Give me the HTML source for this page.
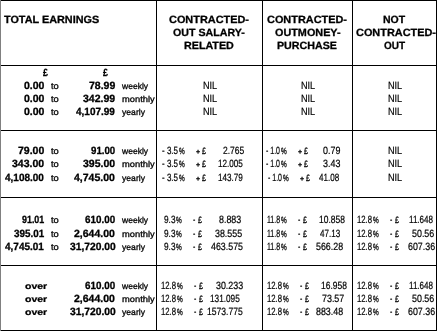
<!DOCTYPE html>
<html><head><meta charset="utf-8"><style>
html,body{margin:0;padding:0;background:#fff;width:437px;height:331px;overflow:hidden}
#t{position:relative;will-change:transform;width:437px;height:331px;background:#fff}
#t div{position:absolute;white-space:pre;line-height:20px;text-rendering:geometricPrecision;font-family:"Liberation Sans",sans-serif;color:#000;transform-origin:0 0}
#t .b{font-weight:bold;font-size:10.5px;-webkit-text-stroke:0.3px #000}
#t .n{font-weight:normal;font-size:10.5px;-webkit-text-stroke:0.2px #000}
#t i{position:absolute;background:#000;display:block}
</style></head>
<body><div id="t">
<i style="left:1px;top:0px;width:436px;height:1px"></i>
<i style="left:1px;top:65px;width:436px;height:1px"></i>
<i style="left:1px;top:130px;width:436px;height:1px"></i>
<i style="left:1px;top:197px;width:436px;height:1px"></i>
<i style="left:1px;top:265px;width:436px;height:1px"></i>
<i style="left:1px;top:330px;width:436px;height:1px"></i>
<i style="left:156px;top:0;width:1px;height:331px"></i>
<i style="left:262px;top:0;width:1px;height:331px"></i>
<i style="left:352px;top:0;width:1px;height:331px"></i>
<i style="left:436px;top:0;width:1px;height:331px"></i>
<i style="left:0;top:0;width:1px;height:331px;background:#808080"></i>
<div class="b" style="left:4.00px;top:10.00px;transform:scaleX(1.0326)">TOTAL EARNINGS</div>
<div class="b" style="left:169.00px;top:10.00px;transform:scaleX(1.0390)">CONTRACTED-</div>
<div class="b" style="left:173.00px;top:23.00px;transform:scaleX(1.0141)">OUT SALARY-</div>
<div class="b" style="left:184.00px;top:36.00px;transform:scaleX(1.0204)">RELATED</div>
<div class="b" style="left:267.00px;top:10.00px;transform:scaleX(1.0390)">CONTRACTED-</div>
<div class="b" style="left:275.00px;top:23.00px;transform:scaleX(1.0317)">OUTMONEY-</div>
<div class="b" style="left:277.00px;top:36.00px;transform:scaleX(1.0169)">PURCHASE</div>
<div class="b" style="left:383.00px;top:10.00px;transform:scaleX(1.0000)">NOT</div>
<div class="b" style="left:356.00px;top:23.00px;transform:scaleX(1.0390)">CONTRACTED-</div>
<div class="b" style="left:384.00px;top:36.00px;transform:scaleX(0.9545)">OUT</div>
<div class="b" style="left:43.00px;top:63.00px;transform:scale(0.8333,1.0000)">£</div>
<div class="b" style="left:103.00px;top:63.00px;transform:scale(0.8333,1.0000)">£</div>
<div class="b" style="left:24.00px;top:76.00px;transform:scaleX(1.0000)">0.00</div>
<div class="b" style="left:24.00px;top:89.00px;transform:scaleX(1.0000)">0.00</div>
<div class="b" style="left:24.00px;top:102.00px;transform:scaleX(1.0000)">0.00</div>
<div class="b" style="left:89.00px;top:76.00px;transform:scaleX(1.0000)">78.99</div>
<div class="b" style="left:83.00px;top:89.00px;transform:scaleX(1.0000)">342.99</div>
<div class="b" style="left:76.00px;top:102.00px;transform:scaleX(0.9512)">4,107.99</div>
<div class="n" style="-webkit-text-stroke:0.35px #000;left:51.00px;top:77.86px;transform:scale(0.8889,0.8571)">to</div>
<div class="n" style="-webkit-text-stroke:0.35px #000;left:51.00px;top:90.86px;transform:scale(0.8889,0.8571)">to</div>
<div class="n" style="-webkit-text-stroke:0.35px #000;left:51.00px;top:103.86px;transform:scale(0.8889,0.8571)">to</div>
<div class="n" style="-webkit-text-stroke:0.35px #000;left:51.00px;top:142.86px;transform:scale(0.8889,0.8571)">to</div>
<div class="n" style="-webkit-text-stroke:0.35px #000;left:51.00px;top:155.86px;transform:scale(0.8889,0.8571)">to</div>
<div class="n" style="-webkit-text-stroke:0.35px #000;left:51.00px;top:169.86px;transform:scale(0.8889,0.8571)">to</div>
<div class="n" style="-webkit-text-stroke:0.35px #000;left:51.00px;top:211.86px;transform:scale(0.8889,0.8571)">to</div>
<div class="n" style="-webkit-text-stroke:0.35px #000;left:51.00px;top:225.86px;transform:scale(0.8889,0.8571)">to</div>
<div class="n" style="-webkit-text-stroke:0.35px #000;left:51.00px;top:238.86px;transform:scale(0.8889,0.8571)">to</div>
<div class="n" style="-webkit-text-stroke:0.35px #000;left:122.00px;top:77.91px;transform:scale(0.8125,0.8182)">weekly</div>
<div class="n" style="-webkit-text-stroke:0.35px #000;left:122.00px;top:90.91px;transform:scale(0.8919,0.8182)">monthly</div>
<div class="n" style="-webkit-text-stroke:0.35px #000;left:122.00px;top:103.91px;transform:scale(0.8214,0.8182)">yearly</div>
<div class="n" style="-webkit-text-stroke:0.35px #000;left:122.00px;top:142.91px;transform:scale(0.8125,0.8182)">weekly</div>
<div class="n" style="-webkit-text-stroke:0.35px #000;left:122.00px;top:155.91px;transform:scale(0.8919,0.8182)">monthly</div>
<div class="n" style="-webkit-text-stroke:0.35px #000;left:122.00px;top:169.91px;transform:scale(0.8214,0.8182)">yearly</div>
<div class="n" style="-webkit-text-stroke:0.35px #000;left:122.00px;top:211.91px;transform:scale(0.8125,0.8182)">weekly</div>
<div class="n" style="-webkit-text-stroke:0.35px #000;left:122.00px;top:225.91px;transform:scale(0.8919,0.8182)">monthly</div>
<div class="n" style="-webkit-text-stroke:0.35px #000;left:122.00px;top:238.91px;transform:scale(0.8214,0.8182)">yearly</div>
<div class="n" style="-webkit-text-stroke:0.35px #000;left:122.00px;top:277.91px;transform:scale(0.8125,0.8182)">weekly</div>
<div class="n" style="-webkit-text-stroke:0.35px #000;left:122.00px;top:290.91px;transform:scale(0.8919,0.8182)">monthly</div>
<div class="n" style="-webkit-text-stroke:0.35px #000;left:122.00px;top:303.91px;transform:scale(0.8214,0.8182)">yearly</div>
<div class="n" style="left:203.13px;top:76.00px;transform:scaleX(0.8667)">NIL</div>
<div class="n" style="left:301.13px;top:76.00px;transform:scaleX(0.8667)">NIL</div>
<div class="n" style="left:388.13px;top:76.00px;transform:scaleX(0.8667)">NIL</div>
<div class="n" style="left:203.13px;top:89.00px;transform:scaleX(0.8667)">NIL</div>
<div class="n" style="left:301.13px;top:89.00px;transform:scaleX(0.8667)">NIL</div>
<div class="n" style="left:388.13px;top:89.00px;transform:scaleX(0.8667)">NIL</div>
<div class="n" style="left:203.13px;top:102.00px;transform:scaleX(0.8667)">NIL</div>
<div class="n" style="left:301.13px;top:102.00px;transform:scaleX(0.8667)">NIL</div>
<div class="n" style="left:388.13px;top:102.00px;transform:scaleX(0.8667)">NIL</div>
<div class="b" style="left:18.00px;top:141.00px;transform:scaleX(1.0000)">79.00</div>
<div class="b" style="left:12.00px;top:154.00px;transform:scaleX(1.0000)">343.00</div>
<div class="b" style="left:5.00px;top:168.00px;transform:scaleX(0.9512)">4,108.00</div>
<div class="b" style="left:91.00px;top:141.00px;transform:scaleX(0.9231)">91.00</div>
<div class="b" style="left:83.00px;top:154.00px;transform:scaleX(1.0000)">395.00</div>
<div class="b" style="left:74.00px;top:168.00px;transform:scaleX(1.0000)">4,745.00</div>
<div class="n" style="left:162.00px;top:141.00px;transform:scaleX(0.7619)">- 3.5</div>
<div class="n" style="font-size:7.5px;-webkit-text-stroke:0.25px #000;left:179.00px;top:139.60px;transform:scale(0.8571,1.2000)">%</div>
<div class="b" style="font-size:7px;left:196.00px;top:143.00px;transform:none">+</div>
<div class="n" style="-webkit-text-stroke:0.35px #000;left:202.00px;top:142.62px;transform:scale(0.6667,0.8750)">£</div>
<div class="n" style="left:162.00px;top:154.00px;transform:scaleX(0.7619)">- 3.5</div>
<div class="n" style="font-size:7.5px;-webkit-text-stroke:0.25px #000;left:179.00px;top:152.60px;transform:scale(0.8571,1.2000)">%</div>
<div class="b" style="font-size:7px;left:196.00px;top:156.00px;transform:none">+</div>
<div class="n" style="-webkit-text-stroke:0.35px #000;left:202.00px;top:155.62px;transform:scale(0.6667,0.8750)">£</div>
<div class="n" style="left:162.00px;top:168.00px;transform:scaleX(0.7619)">- 3.5</div>
<div class="n" style="font-size:7.5px;-webkit-text-stroke:0.25px #000;left:179.00px;top:166.60px;transform:scale(0.8571,1.2000)">%</div>
<div class="b" style="font-size:7px;left:196.00px;top:170.00px;transform:none">+</div>
<div class="n" style="-webkit-text-stroke:0.35px #000;left:202.00px;top:169.62px;transform:scale(0.6667,0.8750)">£</div>
<div class="n" style="left:223.00px;top:141.00px;transform:scaleX(0.8077)">2.765</div>
<div class="n" style="left:218.23px;top:154.00px;transform:scaleX(0.7742)">12.005</div>
<div class="n" style="left:218.23px;top:168.00px;transform:scaleX(0.7742)">143.79</div>
<div class="n" style="left:266.00px;top:141.00px;transform:scaleX(0.6667)">- 1.0</div>
<div class="n" style="font-size:7.5px;-webkit-text-stroke:0.25px #000;left:281.00px;top:139.60px;transform:scale(0.8571,1.2000)">%</div>
<div class="b" style="font-size:7px;left:298.00px;top:143.00px;transform:none">+</div>
<div class="n" style="-webkit-text-stroke:0.35px #000;left:304.00px;top:142.62px;transform:scale(0.6667,0.8750)">£</div>
<div class="n" style="left:266.00px;top:154.00px;transform:scaleX(0.6667)">- 1.0</div>
<div class="n" style="font-size:7.5px;-webkit-text-stroke:0.25px #000;left:281.00px;top:152.60px;transform:scale(0.8571,1.2000)">%</div>
<div class="b" style="font-size:7px;left:298.00px;top:156.00px;transform:none">+</div>
<div class="n" style="-webkit-text-stroke:0.35px #000;left:304.00px;top:155.62px;transform:scale(0.6667,0.8750)">£</div>
<div class="n" style="left:268.00px;top:168.00px;transform:scaleX(0.6667)">- 1.0</div>
<div class="n" style="font-size:7.5px;-webkit-text-stroke:0.25px #000;left:283.00px;top:166.60px;transform:scale(0.8571,1.2000)">%</div>
<div class="b" style="font-size:7px;left:300.00px;top:170.00px;transform:none">+</div>
<div class="n" style="-webkit-text-stroke:0.35px #000;left:306.00px;top:169.62px;transform:scale(0.6667,0.8750)">£</div>
<div class="n" style="left:323.00px;top:141.00px;transform:scaleX(0.8500)">0.79</div>
<div class="n" style="left:323.00px;top:154.00px;transform:scaleX(0.8500)">3.43</div>
<div class="n" style="left:319.00px;top:168.00px;transform:scaleX(0.7692)">41.08</div>
<div class="n" style="left:388.13px;top:141.00px;transform:scaleX(0.8667)">NIL</div>
<div class="n" style="left:388.13px;top:154.00px;transform:scaleX(0.8667)">NIL</div>
<div class="n" style="left:388.13px;top:168.00px;transform:scaleX(0.8667)">NIL</div>
<div class="b" style="left:22.00px;top:210.00px;transform:scaleX(0.8462)">91.01</div>
<div class="b" style="left:14.00px;top:224.00px;transform:scaleX(0.9375)">395.01</div>
<div class="b" style="left:5.00px;top:237.00px;transform:scaleX(0.9512)">4,745.01</div>
<div class="b" style="left:85.00px;top:210.00px;transform:scaleX(0.9375)">610.00</div>
<div class="b" style="left:74.00px;top:224.00px;transform:scaleX(1.0000)">2,644.00</div>
<div class="b" style="left:70.00px;top:237.00px;transform:scaleX(0.9783)">31,720.00</div>
<div class="n" style="left:164.00px;top:210.00px;transform:scaleX(0.7857)">9.3</div>
<div class="n" style="font-size:7.5px;-webkit-text-stroke:0.25px #000;left:176.00px;top:208.60px;transform:scale(0.8571,1.2000)">%</div>
<div class="n" style="left:193.00px;top:210.00px;transform:scale(0.6667,1.0000)">-</div>
<div class="n" style="-webkit-text-stroke:0.35px #000;left:198.00px;top:211.62px;transform:scale(0.6667,0.8750)">£</div>
<div class="n" style="left:267.33px;top:210.00px;transform:scaleX(0.6667)">11.8</div>
<div class="n" style="font-size:7.5px;-webkit-text-stroke:0.25px #000;left:281.00px;top:208.60px;transform:scale(0.8571,1.2000)">%</div>
<div class="n" style="left:298.00px;top:210.00px;transform:scale(0.6667,1.0000)">-</div>
<div class="n" style="-webkit-text-stroke:0.35px #000;left:303.00px;top:211.62px;transform:scale(0.6667,0.8750)">£</div>
<div class="n" style="left:164.00px;top:224.00px;transform:scaleX(0.7857)">9.3</div>
<div class="n" style="font-size:7.5px;-webkit-text-stroke:0.25px #000;left:176.00px;top:222.60px;transform:scale(0.8571,1.2000)">%</div>
<div class="n" style="left:193.00px;top:224.00px;transform:scale(0.6667,1.0000)">-</div>
<div class="n" style="-webkit-text-stroke:0.35px #000;left:198.00px;top:225.62px;transform:scale(0.6667,0.8750)">£</div>
<div class="n" style="left:267.33px;top:224.00px;transform:scaleX(0.6667)">11.8</div>
<div class="n" style="font-size:7.5px;-webkit-text-stroke:0.25px #000;left:281.00px;top:222.60px;transform:scale(0.8571,1.2000)">%</div>
<div class="n" style="left:298.00px;top:224.00px;transform:scale(0.6667,1.0000)">-</div>
<div class="n" style="-webkit-text-stroke:0.35px #000;left:303.00px;top:225.62px;transform:scale(0.6667,0.8750)">£</div>
<div class="n" style="left:164.00px;top:237.00px;transform:scaleX(0.7857)">9.3</div>
<div class="n" style="font-size:7.5px;-webkit-text-stroke:0.25px #000;left:176.00px;top:235.60px;transform:scale(0.8571,1.2000)">%</div>
<div class="n" style="left:193.00px;top:237.00px;transform:scale(0.6667,1.0000)">-</div>
<div class="n" style="-webkit-text-stroke:0.35px #000;left:198.00px;top:238.62px;transform:scale(0.6667,0.8750)">£</div>
<div class="n" style="left:267.33px;top:237.00px;transform:scaleX(0.6667)">11.8</div>
<div class="n" style="font-size:7.5px;-webkit-text-stroke:0.25px #000;left:281.00px;top:235.60px;transform:scale(0.8571,1.2000)">%</div>
<div class="n" style="left:298.00px;top:237.00px;transform:scale(0.6667,1.0000)">-</div>
<div class="n" style="-webkit-text-stroke:0.35px #000;left:303.00px;top:238.62px;transform:scale(0.6667,0.8750)">£</div>
<div class="n" style="left:219.00px;top:210.00px;transform:scaleX(0.8462)">8.883</div>
<div class="n" style="left:215.00px;top:224.00px;transform:scaleX(0.8438)">38.555</div>
<div class="n" style="left:211.00px;top:237.00px;transform:scaleX(0.8421)">463.575</div>
<div class="n" style="left:319.19px;top:210.00px;transform:scaleX(0.8065)">10.858</div>
<div class="n" style="left:320.00px;top:224.00px;transform:scaleX(0.7692)">47.13</div>
<div class="n" style="left:316.00px;top:237.00px;transform:scaleX(0.8438)">566.28</div>
<div class="n" style="left:357.26px;top:210.00px;transform:scaleX(0.7368)">12.8</div>
<div class="n" style="font-size:7.5px;-webkit-text-stroke:0.25px #000;left:373.00px;top:208.60px;transform:scale(0.8571,1.2000)">%</div>
<div class="n" style="left:390.00px;top:210.00px;transform:scale(0.6667,1.0000)">-</div>
<div class="n" style="-webkit-text-stroke:0.35px #000;left:395.00px;top:211.62px;transform:scale(0.6667,0.8750)">£</div>
<div class="n" style="left:357.26px;top:224.00px;transform:scaleX(0.7368)">12.8</div>
<div class="n" style="font-size:7.5px;-webkit-text-stroke:0.25px #000;left:373.00px;top:222.60px;transform:scale(0.8571,1.2000)">%</div>
<div class="n" style="left:390.00px;top:224.00px;transform:scale(0.6667,1.0000)">-</div>
<div class="n" style="-webkit-text-stroke:0.35px #000;left:395.00px;top:225.62px;transform:scale(0.6667,0.8750)">£</div>
<div class="n" style="left:357.26px;top:237.00px;transform:scaleX(0.7368)">12.8</div>
<div class="n" style="font-size:7.5px;-webkit-text-stroke:0.25px #000;left:373.00px;top:235.60px;transform:scale(0.8571,1.2000)">%</div>
<div class="n" style="left:390.00px;top:237.00px;transform:scale(0.6667,1.0000)">-</div>
<div class="n" style="-webkit-text-stroke:0.35px #000;left:395.00px;top:238.62px;transform:scale(0.6667,0.8750)">£</div>
<div class="n" style="left:409.23px;top:210.00px;transform:scaleX(0.7667)">11.648</div>
<div class="n" style="left:412.00px;top:224.00px;transform:scaleX(0.8462)">50.56</div>
<div class="n" style="left:408.00px;top:237.00px;transform:scaleX(0.8438)">607.36</div>
<div class="n" style="left:357.26px;top:276.00px;transform:scaleX(0.7368)">12.8</div>
<div class="n" style="font-size:7.5px;-webkit-text-stroke:0.25px #000;left:373.00px;top:274.60px;transform:scale(0.8571,1.2000)">%</div>
<div class="n" style="left:390.00px;top:276.00px;transform:scale(0.6667,1.0000)">-</div>
<div class="n" style="-webkit-text-stroke:0.35px #000;left:395.00px;top:277.62px;transform:scale(0.6667,0.8750)">£</div>
<div class="n" style="left:357.26px;top:289.00px;transform:scaleX(0.7368)">12.8</div>
<div class="n" style="font-size:7.5px;-webkit-text-stroke:0.25px #000;left:373.00px;top:287.60px;transform:scale(0.8571,1.2000)">%</div>
<div class="n" style="left:390.00px;top:289.00px;transform:scale(0.6667,1.0000)">-</div>
<div class="n" style="-webkit-text-stroke:0.35px #000;left:395.00px;top:290.62px;transform:scale(0.6667,0.8750)">£</div>
<div class="n" style="left:357.26px;top:302.00px;transform:scaleX(0.7368)">12.8</div>
<div class="n" style="font-size:7.5px;-webkit-text-stroke:0.25px #000;left:373.00px;top:300.60px;transform:scale(0.8571,1.2000)">%</div>
<div class="n" style="left:390.00px;top:302.00px;transform:scale(0.6667,1.0000)">-</div>
<div class="n" style="-webkit-text-stroke:0.35px #000;left:395.00px;top:303.62px;transform:scale(0.6667,0.8750)">£</div>
<div class="n" style="left:409.23px;top:276.00px;transform:scaleX(0.7667)">11.648</div>
<div class="n" style="left:412.00px;top:289.00px;transform:scaleX(0.8462)">50.56</div>
<div class="n" style="left:408.00px;top:302.00px;transform:scaleX(0.8438)">607.36</div>
<div class="b" style="left:25.00px;top:278.17px;transform:scale(1.0000,0.8333)">over</div>
<div class="b" style="left:25.00px;top:291.17px;transform:scale(1.0000,0.8333)">over</div>
<div class="b" style="left:25.00px;top:304.17px;transform:scale(1.0000,0.8333)">over</div>
<div class="b" style="left:85.00px;top:276.00px;transform:scaleX(0.9375)">610.00</div>
<div class="b" style="left:74.00px;top:289.00px;transform:scaleX(1.0000)">2,644.00</div>
<div class="b" style="left:70.00px;top:302.00px;transform:scaleX(0.9783)">31,720.00</div>
<div class="n" style="left:161.26px;top:276.00px;transform:scaleX(0.7368)">12.8</div>
<div class="n" style="font-size:7.5px;-webkit-text-stroke:0.25px #000;left:177.00px;top:274.60px;transform:scale(0.8571,1.2000)">%</div>
<div class="n" style="left:194.00px;top:276.00px;transform:scale(0.6667,1.0000)">-</div>
<div class="n" style="-webkit-text-stroke:0.35px #000;left:199.00px;top:277.62px;transform:scale(0.6667,0.8750)">£</div>
<div class="n" style="left:267.26px;top:276.00px;transform:scaleX(0.7368)">12.8</div>
<div class="n" style="font-size:7.5px;-webkit-text-stroke:0.25px #000;left:283.00px;top:274.60px;transform:scale(0.8571,1.2000)">%</div>
<div class="n" style="left:300.00px;top:276.00px;transform:scale(0.6667,1.0000)">-</div>
<div class="n" style="-webkit-text-stroke:0.35px #000;left:305.00px;top:277.62px;transform:scale(0.6667,0.8750)">£</div>
<div class="n" style="left:161.26px;top:289.00px;transform:scaleX(0.7368)">12.8</div>
<div class="n" style="font-size:7.5px;-webkit-text-stroke:0.25px #000;left:177.00px;top:287.60px;transform:scale(0.8571,1.2000)">%</div>
<div class="n" style="left:194.00px;top:289.00px;transform:scale(0.6667,1.0000)">-</div>
<div class="n" style="-webkit-text-stroke:0.35px #000;left:199.00px;top:290.62px;transform:scale(0.6667,0.8750)">£</div>
<div class="n" style="left:267.26px;top:289.00px;transform:scaleX(0.7368)">12.8</div>
<div class="n" style="font-size:7.5px;-webkit-text-stroke:0.25px #000;left:283.00px;top:287.60px;transform:scale(0.8571,1.2000)">%</div>
<div class="n" style="left:300.00px;top:289.00px;transform:scale(0.6667,1.0000)">-</div>
<div class="n" style="-webkit-text-stroke:0.35px #000;left:305.00px;top:290.62px;transform:scale(0.6667,0.8750)">£</div>
<div class="n" style="left:161.26px;top:302.00px;transform:scaleX(0.7368)">12.8</div>
<div class="n" style="font-size:7.5px;-webkit-text-stroke:0.25px #000;left:177.00px;top:300.60px;transform:scale(0.8571,1.2000)">%</div>
<div class="n" style="left:194.00px;top:302.00px;transform:scale(0.6667,1.0000)">-</div>
<div class="n" style="-webkit-text-stroke:0.35px #000;left:199.00px;top:303.62px;transform:scale(0.6667,0.8750)">£</div>
<div class="n" style="left:267.26px;top:302.00px;transform:scaleX(0.7368)">12.8</div>
<div class="n" style="font-size:7.5px;-webkit-text-stroke:0.25px #000;left:283.00px;top:300.60px;transform:scale(0.8571,1.2000)">%</div>
<div class="n" style="left:300.00px;top:302.00px;transform:scale(0.6667,1.0000)">-</div>
<div class="n" style="-webkit-text-stroke:0.35px #000;left:305.00px;top:303.62px;transform:scale(0.6667,0.8750)">£</div>
<div class="n" style="left:216.00px;top:276.00px;transform:scaleX(0.8438)">30.233</div>
<div class="n" style="left:210.22px;top:289.00px;transform:scaleX(0.7838)">131.095</div>
<div class="n" style="left:207.19px;top:302.00px;transform:scaleX(0.8140)">1573.775</div>
<div class="n" style="left:321.19px;top:276.00px;transform:scaleX(0.8065)">16.958</div>
<div class="n" style="left:322.00px;top:289.00px;transform:scaleX(0.8462)">73.57</div>
<div class="n" style="left:316.00px;top:302.00px;transform:scaleX(0.8438)">883.48</div>
</div></body></html>
